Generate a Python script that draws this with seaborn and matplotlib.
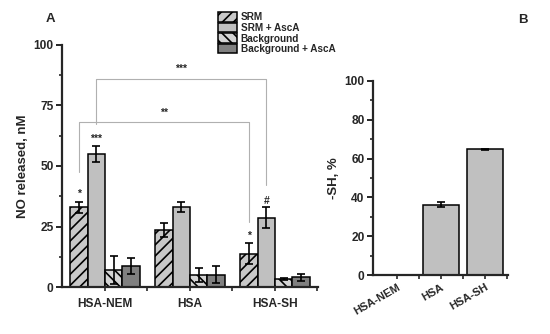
import matplotlib
matplotlib.use("Agg")
import matplotlib.pyplot as plt
import matplotlib.ticker as mticker
from matplotlib.patches import Patch
import pandas as pd
import seaborn as sns

GROUPS = ["HSA-NEM", "HSA", "HSA-SH"]
CONDITIONS = ["SRM", "SRM + AscA", "Background", "Background + AscA"]

SRM = [33.0, 23.5, 13.8]
SRM_ERR = [2.3, 2.8, 4.4]
SRM_ASCA = [55.0, 32.9, 28.7]
SRM_ASCA_ERR = [3.4, 2.1, 4.2]
BG = [7.0, 5.0, 3.3]
BG_ERR = [5.8, 3.0, 0.5]
BG_ASCA = [8.7, 5.1, 4.0]
BG_ASCA_ERR = [3.3, 3.6, 1.4]

SH = [0.0, 36.3, 64.9]
SH_ERR = [0.0, 1.3, 0.3]

FACES = {"SRM": "#c8c8c8", "SRM + AscA": "#c0c0c0",
         "Background": "#d4d4d4", "Background + AscA": "#808080"}
HATCHES = {"SRM": "///", "SRM + AscA": "", "Background": "\\\\\\", "Background + AscA": ""}

sns.set_theme(style="ticks")
plt.rcParams["font.family"] = ["Liberation Sans", "DejaVu Sans"]
plt.rcParams["font.weight"] = "bold"
plt.rcParams["hatch.linewidth"] = 1.2

vals = [SRM, SRM_ASCA, BG, BG_ASCA]
errs = [SRM_ERR, SRM_ASCA_ERR, BG_ERR, BG_ASCA_ERR]
df = pd.DataFrame([
    {"group": g, "cond": c, "value": v[i]}
    for c, v in zip(CONDITIONS, vals) for i, g in enumerate(GROUPS)
])

fig = plt.figure(figsize=(5.5, 3.34), dpi=100)
ax = fig.add_axes([0.1127, 0.1407, 0.4655, 0.7246])
axb = fig.add_axes([0.678, 0.1766, 0.2456, 0.5809])

# panel A
sns.barplot(data=df, x="group", y="value", hue="cond", order=GROUPS, hue_order=CONDITIONS,
            errorbar=None, width=0.82, ax=ax, legend=False, edgecolor="black", linewidth=1.1)
centers = []
for cont, cond, err in zip(ax.containers, CONDITIONS, errs):
    xs = []
    for bar in cont:
        bar.set_facecolor(FACES[cond])
        bar.set_hatch(HATCHES[cond])
        bar.set_edgecolor("black")
        xs.append(bar.get_x() + bar.get_width() / 2)
    hs = [bar.get_height() for bar in cont]
    ax.errorbar(xs, hs, yerr=err, fmt="none", ecolor="black", elinewidth=1.2, capsize=3, capthick=1.2, zorder=5)
    centers.append(xs)

ax.set_xlim(-0.506, 2.506)
ax.set_ylim(0, 100)
ax.yaxis.set_major_locator(mticker.MultipleLocator(25))
ax.yaxis.set_minor_locator(mticker.MultipleLocator(12.5))
ax.xaxis.set_minor_locator(mticker.FixedLocator([0.5, 1.5, 2.5]))
ax.set_xlabel("")
ax.set_ylabel("NO released, nM", fontsize=9.5, fontweight="bold", labelpad=3)

# significance markers
ax.text(centers[0][0], 36.5, "*", ha="center", va="bottom", fontsize=7.5)
ax.text(centers[1][0], 59, "***", ha="center", va="bottom", fontsize=7.5)
ax.text(centers[0][2], 19, "*", ha="center", va="bottom", fontsize=7.5)
ax.text(centers[1][2], 33.5, "#", ha="center", va="bottom", fontsize=7.5)

gray = "#b0b0b0"
ax.plot([centers[0][0], centers[0][0], centers[0][2], centers[0][2]], [47.5, 68.2, 68.2, 27],
        color=gray, lw=0.8, zorder=1)
ax.plot([centers[1][0], centers[1][0], centers[1][2], centers[1][2]], [67.5, 86, 86, 42],
        color=gray, lw=0.8, zorder=1)
ax.text((centers[0][0] + centers[0][2]) / 2, 70, "**", ha="center", va="bottom", fontsize=7.5)
ax.text((centers[1][0] + centers[1][2]) / 2, 88, "***", ha="center", va="bottom", fontsize=7.5)

# panel B
dfb = pd.DataFrame({"group": GROUPS, "value": SH})
sns.barplot(data=dfb, x="group", y="value", order=GROUPS, color="#c0c0c0", errorbar=None,
            width=0.82, ax=axb, edgecolor="black", linewidth=1.1, saturation=1)
bxs = [b.get_x() + b.get_width() / 2 for b in axb.patches]
axb.errorbar(bxs[1:], SH[1:], yerr=SH_ERR[1:], fmt="none", ecolor="black", elinewidth=1.2,
             capsize=3, capthick=1.2, zorder=5)
axb.set_xlim(-0.545, 2.52)
axb.set_ylim(0, 100)
axb.yaxis.set_major_locator(mticker.MultipleLocator(20))
axb.yaxis.set_minor_locator(mticker.MultipleLocator(10))
axb.xaxis.set_minor_locator(mticker.FixedLocator([0.5, 1.5, 2.5]))
axb.set_xlabel("")
axb.set_ylabel("-SH, %", fontsize=9.5, fontweight="bold", labelpad=3)

for a in (ax, axb):
    sns.despine(ax=a)
    for s in ("left", "bottom"):
        a.spines[s].set_linewidth(1.6)
    a.tick_params(axis="y", which="major", length=4, width=1.4, labelsize=8.6, pad=2)
    a.tick_params(axis="y", which="minor", length=2.5, width=1.2)
    a.tick_params(axis="x", which="major", length=3, width=1.2, labelsize=8.6, pad=5)
    a.tick_params(axis="x", which="minor", length=3, width=1.2)
    for lab in a.get_xticklabels() + a.get_yticklabels():
        lab.set_fontweight("bold")
axb.tick_params(axis="x", which="major", labelsize=8, pad=2)
for lab in axb.get_xticklabels():
    lab.set_rotation(30)
    lab.set_ha("right")
    lab.set_rotation_mode("anchor")

handles = [Patch(facecolor=FACES[c], hatch=HATCHES[c], edgecolor="black", linewidth=1.1, label=c)
           for c in CONDITIONS]
fig.legend(handles=handles, loc="upper left", bbox_to_anchor=(0.396, 0.963), frameon=False,
           handlelength=1.9, handleheight=1.05, labelspacing=0.05,
           handletextpad=0.4, borderpad=0, borderaxespad=0, prop={"weight": "bold", "size": 7.2})

fig.text(50 / 550, 1 - 19 / 334, "A", fontsize=9.5, fontweight="bold", ha="center", va="center")
fig.text(523 / 550, 1 - 20 / 334, "B", fontsize=9.5, fontweight="bold", ha="center", va="center")

fig.savefig("out.png", dpi=100)
